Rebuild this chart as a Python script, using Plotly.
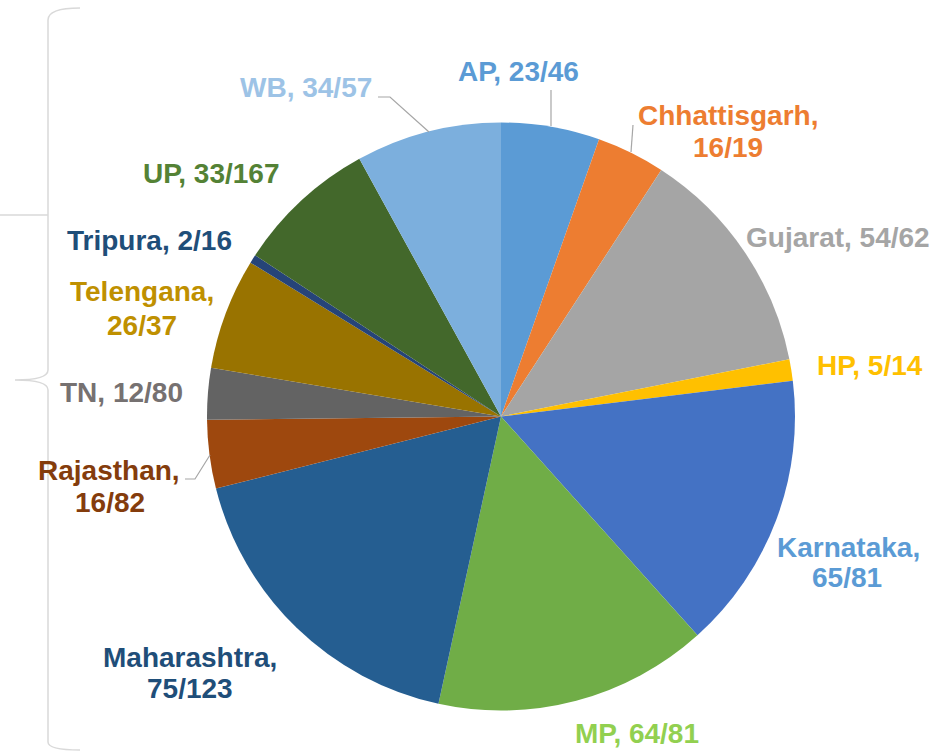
import plotly.graph_objects as go

W, H = 946, 753

# ---- data ----
states = ["AP", "Chhattisgarh", "Gujarat", "HP", "Karnataka", "MP", "Maharashtra",
          "Rajasthan", "TN", "Telengana", "Tripura", "UP", "WB"]
selected = [23, 16, 54, 5, 65, 64, 75, 16, 12, 26, 2, 33, 34]
totals = [46, 19, 62, 14, 81, 81, 123, 82, 80, 37, 16, 167, 57]

# ---- styles ----
slice_colors = ["#5B9BD5", "#ED7D31", "#A5A5A5", "#FFC000", "#4472C4", "#70AD47", "#255E91",
                "#9E480E", "#636363", "#997300", "#264478", "#43682B", "#7CAFDD"]
label_colors = ["#5B9BD5", "#ED7D31", "#A5A5A5", "#FFC000", "#5B9BD5", "#92D050", "#1F4E79",
                "#843C0C", "#767171", "#BF9000", "#1F4E79", "#548235", "#9DC3E6"]
# whether the label is split into two lines
two_line = [False, True, False, False, True, False, True, True, False, True, False, False, False]
# label centres in pixels (first line, second line)
label_pos = [
    [(518, 71)],
    [(728, 116), (728, 147)],
    [(838, 238)],
    [(870, 365)],
    [(848, 547), (847, 577)],
    [(637, 733)],
    [(190, 657), (190, 688)],
    [(109, 470), (110, 502)],
    [(122, 392)],
    [(142, 291), (142, 325)],
    [(149, 241)],
    [(211, 173)],
    [(306, 87)],
]
leaders = [
    [(551, 90), (551, 126)],
    [(633, 125), (631, 152)],
    [(185, 479), (195, 479), (210, 455)],
    [(378, 97), (390, 97), (429, 132)],
]

def px(x):
    return x / W

def py(y):
    return 1 - y / H

# pie occupies centre (501, 416.5) radius 294
cx, cy, R = 501, 416.5, 294

fig = go.Figure(go.Pie(
    labels=states,
    values=selected,
    sort=False,
    direction="clockwise",
    rotation=0,
    marker=dict(colors=slice_colors, line=dict(width=0)),
    textinfo="none",
    hoverinfo="label+value",
    domain=dict(x=[px(cx - R), px(cx + R)], y=[py(cy + R), py(cy - R)]),
))

annotations = []
for name, s, t, col, two, pos in zip(states, selected, totals, label_colors, two_line, label_pos):
    lines = [f"{name},", f"{s}/{t}"] if two else [f"{name}, {s}/{t}"]
    for txt, (x, y) in zip(lines, pos):
        annotations.append(dict(
            x=px(x), y=py(y), xref="paper", yref="paper",
            text=txt, showarrow=False, xanchor="center", yanchor="middle",
            font=dict(family="Arial, Liberation Sans, sans-serif", size=28, color=col, weight="bold"),
        ))

shapes = []
for pts in leaders:
    path = "M " + " L ".join(f"{px(x)} {py(y)}" for x, y in pts)
    shapes.append(dict(type="path", xref="paper", yref="paper", path=path,
                       line=dict(color="#A6A6A6", width=1.2)))

# decorative brace on the left
brace_pts = (f"M {px(80)} {py(8)} Q {px(48)} {py(8)} {px(48)} {py(20)} "
             f"L {px(48)} {py(370)} Q {px(48)} {py(380)} {px(15)} {py(380)} "
             f"Q {px(48)} {py(380)} {px(48)} {py(390)} "
             f"L {px(48)} {py(742)} Q {px(48)} {py(750)} {px(80)} {py(750)}")
shapes.append(dict(type="path", xref="paper", yref="paper", path=brace_pts,
                   line=dict(color="#D9D9D9", width=1.5)))
shapes.append(dict(type="line", xref="paper", yref="paper",
                   x0=0, y0=py(215), x1=px(48), y1=py(215),
                   line=dict(color="#D9D9D9", width=1.5)))

fig.update_layout(
    width=W, height=H,
    margin=dict(l=0, r=0, t=0, b=0),
    paper_bgcolor="white", plot_bgcolor="white",
    showlegend=False,
    annotations=annotations,
    shapes=shapes,
)

fig.write_html("out.html", config={"displayModeBar": False},
               post_script="document.body.style.margin='0';document.body.style.overflow='hidden';")
